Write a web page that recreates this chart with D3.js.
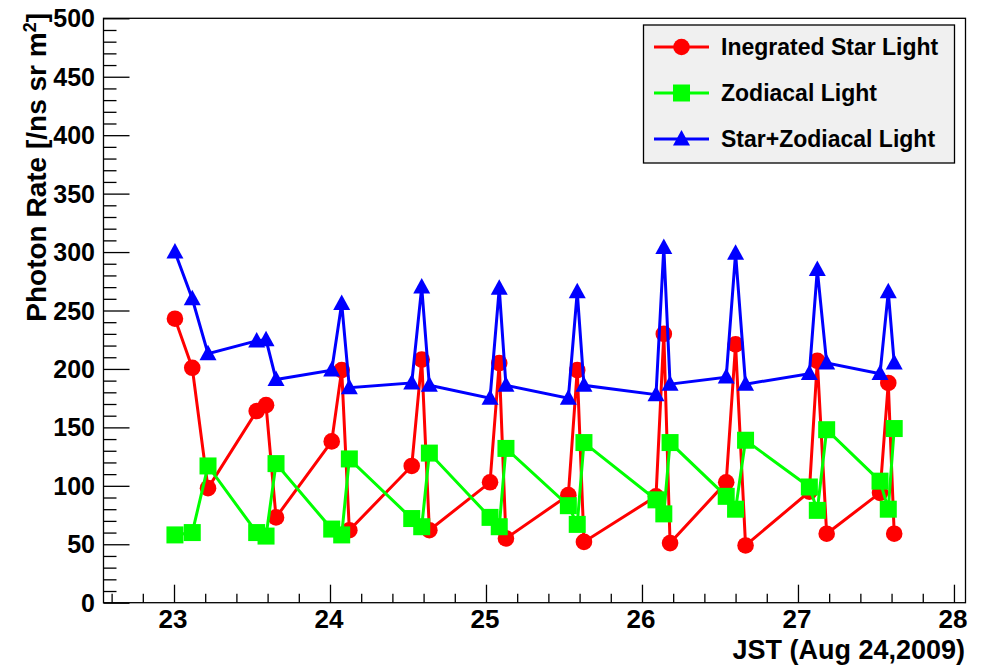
<!DOCTYPE html>
<html>
<head>
<meta charset="utf-8">
<script src="https://cdn.jsdelivr.net/npm/d3@7"></script>
<style>
  body { margin: 0; background: #fff; }
  text { font-family: "Liberation Sans", Arial, Helvetica, sans-serif; font-weight: bold; fill: #000; }
</style>
</head>
<body>
<div id="chart"></div>
<script>
// observation times (JST hours, Aug 24 2009)
let times = [23.006, 23.117, 23.218, 23.53, 23.59, 23.654,
             24.011, 24.075, 24.124, 24.524, 24.588, 24.637,
             25.026, 25.085, 25.128, 25.528, 25.585, 25.628,
             26.09, 26.14, 26.18, 26.54, 26.6, 26.664,
             27.073, 27.124, 27.184, 27.526, 27.579, 27.617];

let starLight = [243, 201, 98, 164, 169, 73,
                 138, 199, 62, 117, 208, 62,
                 103, 205, 55, 92, 199, 52,
                 91, 230, 51, 103, 221, 49,
                 95, 207, 59, 94, 188, 59];

let zodiacal = [58, 60, 117, 60, 57, 119,
                63, 58, 123, 72, 65, 128,
                73, 65, 132, 83, 67, 137,
                88, 76, 137, 91, 80, 139,
                99, 79, 148, 104, 80, 149];

let starZodiacal = [300, 260, 213, 224, 225, 191,
                    199, 256, 184, 188, 270, 186,
                    175, 269, 186, 175, 266, 186,
                    178, 304, 187, 193, 299, 187,
                    196, 285, 205, 196, 266, 205];

let seriesNames = ["Inegrated Star Light", "Zodiacal Light", "Star+Zodiacal Light"];
let seriesColors = ["#ff0000", "#00ff00", "#0000ff"];
let seriesMarkers = ["circle", "square", "triangle"];

let xTicks = [23, 24, 25, 26, 27, 28];
let yTicks = [0, 50, 100, 150, 200, 250, 300, 350, 400, 450, 500];

let width = 981, height = 668;
let frame = { left: 103.5, top: 18.3, right: 965.5, bottom: 602.7 };

let svg = d3.select("#chart").append("svg")
    .attr("width", width)
    .attr("height", height);

svg.append("rect").attr("width", width).attr("height", height).attr("fill", "#fff");

let x = d3.scaleLinear()
    .domain([22.548, 28.074])
    .range([frame.left, frame.right]);

let y = d3.scaleLinear()
    .domain([0, 500])
    .range([frame.bottom, frame.top]);

// frame
svg.append("rect")
    .attr("x", frame.left)
    .attr("y", frame.top)
    .attr("width", frame.right - frame.left)
    .attr("height", frame.bottom - frame.top)
    .attr("fill", "none")
    .attr("stroke", "#000")
    .attr("stroke-width", 1.3);

// y axis ticks (drawn inside the frame, ROOT style)
let yMinor = d3.range(0, 501, 10).filter(v => v % 50 !== 0);
svg.append("g")
    .attr("transform", `translate(${frame.left},0)`)
    .call(d3.axisRight(y).tickValues(yMinor).tickSize(13).tickFormat(""))
    .call(g => g.select(".domain").remove())
    .call(g => g.selectAll("line").attr("stroke-width", 1.3));
svg.append("g")
    .attr("transform", `translate(${frame.left},0)`)
    .call(d3.axisRight(y).tickValues(yTicks).tickSize(26).tickFormat(""))
    .call(g => g.select(".domain").remove())
    .call(g => g.selectAll("line").attr("stroke-width", 1.3));

svg.append("g").selectAll("text")
    .data(yTicks)
    .enter().append("text")
    .attr("x", 95)
    .attr("y", d => y(d) + 9)
    .attr("text-anchor", "end")
    .attr("font-size", 25)
    .text(d => d);

// x axis ticks
let xMinor = d3.range(22.6, 28.01, 0.2).filter(v => Math.abs(v - Math.round(v)) > 0.01);
svg.append("g")
    .attr("transform", `translate(0,${frame.bottom})`)
    .call(d3.axisTop(x).tickValues(xMinor).tickSize(9).tickFormat(""))
    .call(g => g.select(".domain").remove())
    .call(g => g.selectAll("line").attr("stroke-width", 1.3));
svg.append("g")
    .attr("transform", `translate(0,${frame.bottom})`)
    .call(d3.axisTop(x).tickValues(xTicks).tickSize(18).tickFormat(""))
    .call(g => g.select(".domain").remove())
    .call(g => g.selectAll("line").attr("stroke-width", 1.3));

svg.append("g").selectAll("text")
    .data(xTicks)
    .enter().append("text")
    .attr("x", d => x(d) - 1)
    .attr("y", 628)
    .attr("text-anchor", "middle")
    .attr("font-size", 26)
    .text(d => d);

// axis titles
svg.append("text")
    .attr("x", 965)
    .attr("y", 659)
    .attr("text-anchor", "end")
    .attr("font-size", 27)
    .text("JST (Aug 24,2009)");

let yTitle = svg.append("text")
    .attr("transform", "translate(46,13) rotate(-90)")
    .attr("text-anchor", "end")
    .attr("font-size", 28);
yTitle.append("tspan").text("Photon Rate [/ns sr m");
yTitle.append("tspan").attr("dy", -10).attr("font-size", 18).text("2");
yTitle.append("tspan").attr("dy", 10).text("]");

// markers
function drawMarker(g, type, cx, cy, color) {
    if (type === "circle") {
        g.append("circle").attr("cx", cx).attr("cy", cy).attr("r", 8.3).attr("fill", color);
    } else if (type === "square") {
        g.append("rect").attr("x", cx - 8.5).attr("y", cy - 8.5)
            .attr("width", 17).attr("height", 17).attr("fill", color);
    } else {
        g.append("path")
            .attr("d", `M${cx},${cy - 9}L${cx + 8.5},${cy + 6.5}L${cx - 8.5},${cy + 6.5}Z`)
            .attr("fill", color);
    }
}

let line = d3.line()
    .x(d => x(d[0]))
    .y(d => y(d[1]));

let allSeries = [starLight, zodiacal, starZodiacal];
allSeries.forEach((values, i) => {
    let pts = times.map((t, j) => [t, values[j]]);
    let g = svg.append("g");
    g.append("path")
        .datum(pts)
        .attr("d", line)
        .attr("fill", "none")
        .attr("stroke", seriesColors[i])
        .attr("stroke-width", 3);
    pts.forEach(p => drawMarker(g, seriesMarkers[i], x(p[0]), y(p[1]), seriesColors[i]));
});

// legend
let legend = svg.append("g");
legend.append("rect")
    .attr("x", 643.5).attr("y", 25)
    .attr("width", 311).attr("height", 138)
    .attr("fill", "#f0f0f0")
    .attr("stroke", "#000")
    .attr("stroke-width", 1.3);

seriesNames.forEach((name, i) => {
    let ly = 47 + i * 46;
    legend.append("line")
        .attr("x1", 654).attr("x2", 709)
        .attr("y1", ly).attr("y2", ly)
        .attr("stroke", seriesColors[i])
        .attr("stroke-width", 3);
    drawMarker(legend, seriesMarkers[i], 681.5, ly, seriesColors[i]);
    legend.append("text")
        .attr("x", 721)
        .attr("y", ly + 8)
        .attr("font-size", 23)
        .text(name);
});
</script>
</body>
</html>
